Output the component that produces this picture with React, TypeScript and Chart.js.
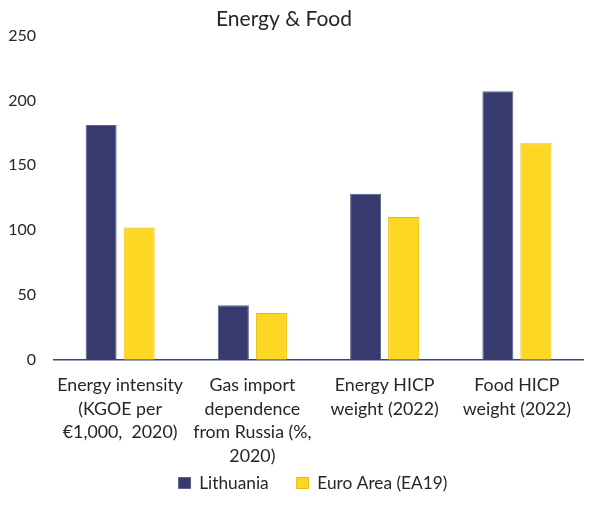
import React, { useEffect, useRef } from "react";
import { Chart, registerables } from "chart.js";

Chart.register(...registerables);

const chartTitle = "Energy & Food";
const categories: string[][] = [
  ["Energy intensity", "(KGOE per", "€1,000,  2020)"],
  ["Gas import", "dependence", "from Russia (%,", "2020)"],
  ["Energy HICP", "weight (2022)"],
  ["Food HICP", "weight (2022)"],
];
const seriesNames = ["Lithuania", "Euro Area (EA19)"];
const lithuania = [181, 42, 128, 207];
const euroArea = [102, 36, 110, 167];
const yMin = 0;
const yMax = 250;
const yStep = 50;

const FONT = "Lato, 'Open Sans', 'Liberation Sans', sans-serif";
const TEXT = "#262626";
const NAVY = "#363A6F";
const NAVY_EDGE = "#5E6289";
const YELLOW = "#FED624";
const YELLOW_EDGE = "#E5BD00";

const CANVAS_W = 578;
const CANVAS_H = 529;
const VISIBLE_H = 490;

const LEGEND_DX = 17.5;
const LEGEND_DY = -35.35;
const TITLE_DX = -11.5;

const nudge = {
  id: "nudge",
  afterLayout(chart: any) {
    const lg = chart.legend;
    if (lg) {
      lg.left += LEGEND_DX;
      lg.right += LEGEND_DX;
      lg.top += LEGEND_DY;
      lg.bottom += LEGEND_DY;
    }
    const t = chart.titleBlock;
    if (t) {
      t.left += TITLE_DX;
      t.right += TITLE_DX;
    }
  },
};

export default function App() {
  const ref = useRef<HTMLCanvasElement | null>(null);
  useEffect(() => {
    if (!ref.current) return;
    const chart = new Chart(ref.current, {
      type: "bar",
      data: {
        labels: categories,
        datasets: [
          {
            label: seriesNames[0],
            data: lithuania,
            backgroundColor: NAVY,
            borderColor: NAVY_EDGE,
            borderWidth: 1,
          },
          {
            label: seriesNames[1],
            data: euroArea,
            backgroundColor: YELLOW,
            borderColor: YELLOW_EDGE,
            borderWidth: 1,
          },
        ],
      },
      plugins: [nudge],
      options: {
        animation: false,
        responsive: false,
        maintainAspectRatio: false,
        layout: { padding: { left: 0, right: 3, top: 0, bottom: 0 } },
        datasets: {
          bar: { barPercentage: 0.816, categoryPercentage: 0.575 },
        },
        plugins: {
          title: {
            display: true,
            text: chartTitle,
            color: TEXT,
            font: { family: FONT, size: 21, weight: "normal", lineHeight: 1.05 },
            padding: { top: 0, bottom: 5 },
          },
          legend: {
            display: true,
            position: "bottom",
            labels: {
              boxWidth: 12,
              boxHeight: 11,
              padding: 28,
              color: TEXT,
              font: { family: FONT, size: 17.3 },
            },
          },
          tooltip: { enabled: false },
        },
        scales: {
          x: {
            grid: { display: false, drawTicks: false },
            border: { display: true, color: "#3E4272", width: 1.5 },
            ticks: {
              color: TEXT,
              padding: 14,
              maxRotation: 0,
              autoSkip: false,
              font: { family: FONT, size: 17.8, lineHeight: 23.5 / 17.8 },
            },
          },
          y: {
            min: yMin,
            max: yMax,
            grid: { display: false, drawTicks: false },
            border: { display: false },
            ticks: {
              stepSize: yStep,
              color: TEXT,
              padding: 18,
              font: { family: FONT, size: 16 },
            },
            afterFit: (scale: any) => {
              scale.width = 46;
            },
          },
        },
      },
    });
    return () => chart.destroy();
  }, []);
  return (
    <div style={{ width: CANVAS_W, height: VISIBLE_H, overflow: "hidden" }}>
      <canvas
        ref={ref}
        width={CANVAS_W}
        height={CANVAS_H}
        style={{ display: "block", width: CANVAS_W, height: CANVAS_H }}
      />
    </div>
  );
}
